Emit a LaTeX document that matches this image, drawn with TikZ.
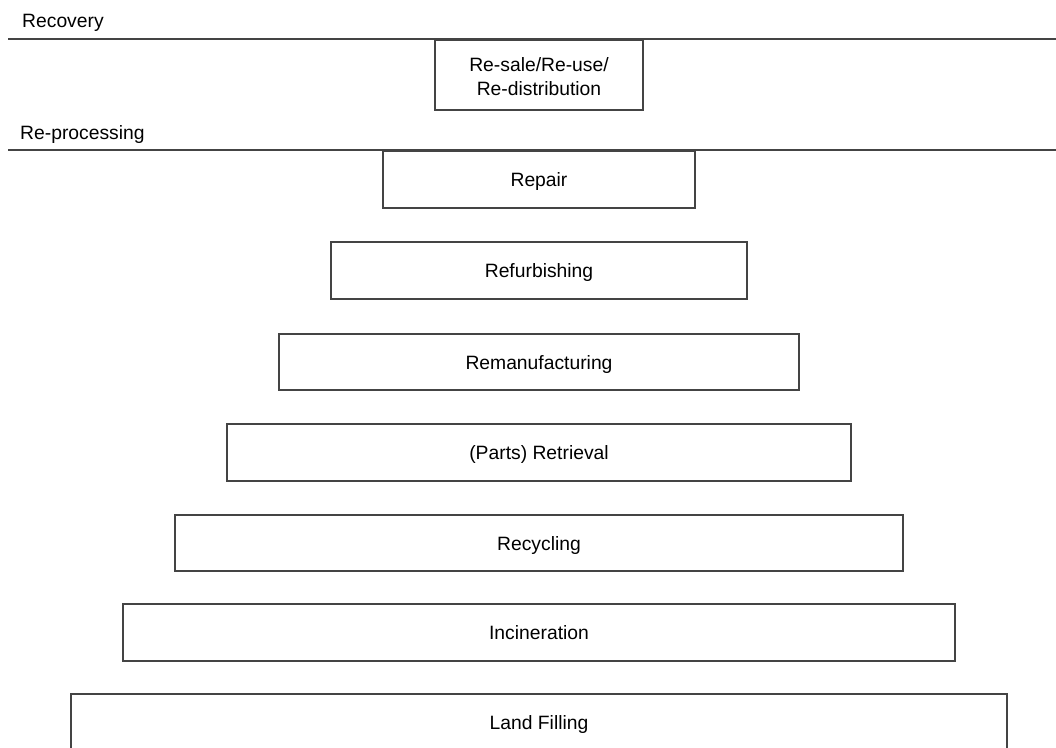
\documentclass[tikz,border=0pt]{standalone}
\usepackage{fontspec}
\setmainfont{Liberation Sans}
\definecolor{linec}{HTML}{444444}
\begin{document}
\begin{tikzpicture}[x=1pt,y=-1pt,
  lvl/.style={draw=linec,line width=1.4pt,fill=white,inner sep=0pt,align=center,
    text height=14pt,text depth=0pt,
    font=\fontsize{19.3}{24}\selectfont},
  lbl/.style={anchor=base west,inner sep=0pt,font=\fontsize{19.3}{24}\selectfont},
  sep/.style={draw=linec,line width=1.5pt}]
\useasboundingbox (0,0) rectangle (1056,747);
\coordinate (l1a) at (8,39);
\coordinate (l1b) at (1056,39);
\coordinate (l2a) at (8,150);
\coordinate (l2b) at (1056,150);
\draw[sep] (l1a) -- (l1b);
\draw[sep] (l2a) -- (l2b);
\node[lbl] (recovery) at (22,27.5) {Recovery};
\node[lbl] (reproc) at (20,139) {Re-processing};
\node[draw=linec,line width=1.4pt,fill=white,inner sep=0pt,font=\fontsize{19.3}{24}\selectfont,
  minimum width=208pt,minimum height=70pt] (resale) at (539,75)
  {\raisebox{-9pt}[0pt][0pt]{\begin{tabular}{@{}c@{}}Re-sale/Re-use/\\Re-distribution\end{tabular}}};
\node[lvl,minimum width=312pt,minimum height=57pt] (repair) at (539,179.5) {Repair};
\node[lvl,minimum width=416pt,minimum height=57pt] (refurb) at (539,270.5) {Refurbishing};
\node[lvl,minimum width=520pt,minimum height=56pt] (reman) at (539,362) {Remanufacturing};
\node[lvl,minimum width=624pt,minimum height=57pt] (retr) at (539,452.5) {(Parts) Retrieval};
\node[lvl,minimum width=728pt,minimum height=56pt] (recyc) at (539,543) {Recycling};
\node[lvl,minimum width=832pt,minimum height=57pt] (incin) at (539,632.5) {Incineration};
\node[lvl,minimum width=936pt,minimum height=57pt] (land) at (539,722.5) {Land Filling};
\end{tikzpicture}
\end{document}
